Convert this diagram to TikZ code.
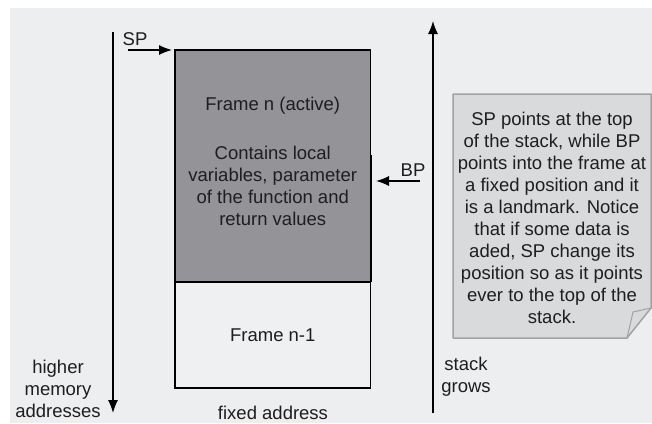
\documentclass[tikz,border=0pt]{standalone}
\usepackage{fontspec}
\setmainfont{Liberation Sans}
\usetikzlibrary{arrows.meta, positioning}

\definecolor{bggray}{HTML}{EDEEF0}
\definecolor{activegray}{HTML}{949397}
\definecolor{oldgray}{HTML}{EFF0F2}
\definecolor{notefill}{HTML}{D9DADC}
\definecolor{noteline}{HTML}{A2A2A4}
\definecolor{textgray}{HTML}{1E1E1E}

\begin{document}
\begin{tikzpicture}[
    x=1pt, y=-1pt,
    framebox/.style={rectangle, draw, line width=1.2pt, outer sep=0pt, inner sep=0pt, minimum width=195.5pt},
    txt/.style={align=center, text=textgray, font=\fontsize{18.5}{22}\selectfont},
    arrow/.style={-{Latex[length=13pt,width=10pt]}, line width=1.3pt}
]
\useasboundingbox (0,0) rectangle (652,423);
\fill[bggray] (10,8) rectangle (652,423);

% stack frames
\node[framebox, fill=activegray, minimum height=232pt] (framen) at (272.75,166) {};
\node[framebox, fill=oldgray, minimum height=106pt, below=0pt of framen] (framen1) {};
\draw[line width=2pt] ([yshift=-105pt]framen.north east) -- (framen.south east);
\node[txt] (framentext) at ([yshift=4.5pt]framen.center) {Frame n (active)\\[27pt]Contains local\\variables, parameter\\of the function and\\return values};
\node[txt] (framen1text) at (framen1.center) {Frame n-1};
\node[txt] (fixed) at (273,413) {fixed address};

% pointers
\node[txt] (sp) at (135,39) {SP};
\coordinate (sptail) at (128,50);
\draw[arrow, shorten >=3pt] (sptail) -- (framen.north west);
\node[txt] (bp) at (413,170) {BP};
\coordinate (bptail) at (420,181);
\coordinate (bptip) at (376,181);
\draw[arrow] (bptail) -- (bptip);

% address axis
\coordinate (addrtop) at (113,32);
\coordinate (addrbot) at (113,413);
\draw[arrow] (addrtop) -- (addrbot);
\node[txt] (higher) at (58,389) {higher\\memory\\addresses};

% growth axis
\coordinate (growbot) at (433,413);
\coordinate (growtop) at (433,21);
\draw[arrow] (growbot) -- (growtop);
\node[txt] (grows) at (466,377) {stack\\grows};

% note
\draw[noteline, fill=notefill, line width=1.5pt, line join=round] (453,94) -- (651,94) -- (651,308) -- (627,338) -- (453,338) -- cycle;
\draw[noteline, line width=1pt, line join=round] (651,308) -- (633,312) -- (627,338);
\node[txt] (note) at (552,218) {SP points at the top\\of the stack, while BP\\points into the frame at\\a fixed position and it\\is a landmark. Notice\\that if some data is\\aded, SP change its\\position so as it points\\ever to the top of the\\stack.};
\end{tikzpicture}
\end{document}
